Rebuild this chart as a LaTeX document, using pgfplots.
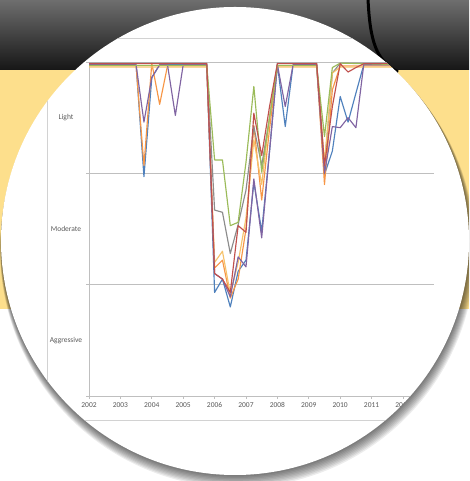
\documentclass[border=0pt]{standalone}
\usepackage{pgfplots}
\pgfplotsset{compat=1.18}
\usepackage{fontspec}
\setmainfont{Carlito}
\definecolor{sblue}{HTML}{4F81BD}
\definecolor{sred}{HTML}{C0504D}
\definecolor{sgreen}{HTML}{9BBB59}
\definecolor{spurple}{HTML}{8064A2}
\definecolor{sorange}{HTML}{F79646}
\definecolor{sgray}{HTML}{8C8C8C}
\definecolor{sgold}{HTML}{F6C26B}
\definecolor{ybg}{HTML}{FDDF8C}
\definecolor{bandtop}{HTML}{6E6E6E}
\definecolor{bandbot}{HTML}{161616}
\definecolor{lblgray}{HTML}{5A5A5A}
\definecolor{gridgray}{HTML}{BFBFBF}
\begin{document}
\begin{tikzpicture}
\begin{scope}[x=1pt,y=1pt]
\useasboundingbox (0,0) rectangle (469,481);
\clip (0,0) rectangle (469,481);
\fill[white] (0,0) rectangle (469,481);
\fill[ybg] (0,172) rectangle (469,412);
\shade[top color=bandtop, bottom color=bandbot] (0,411) rectangle (469,481);
\draw[black, line width=3] (368,482) .. controls (370,440) and (376,420) .. (398,409);
\foreach \i in {1,...,9} {
  \fill[black, opacity=0.075] ({235+0.3*\i}, {240-1.0*\i}) circle ({234+0.4*\i});
}
\fill[white] (235,240) circle (234);
\end{scope}
\begin{scope}
\clip (235pt,240pt) circle (234pt);
\draw[gridgray!70, line width=0.7pt] (47pt,61pt) rectangle (520pt,443pt);
\begin{axis}[
  at={(89pt,85pt)}, anchor=south west,
  scale only axis, width=345.4pt, height=334pt,
  xmin=2002, xmax=2013, ymin=0, ymax=3,
  axis x line=bottom, axis y line=left,
  axis line style={-, draw=gridgray, line width=0.7pt},
  xtick={2002,...,2012},
  /pgf/number format/assume math mode=true,
  xticklabel style={/pgf/number format/1000 sep=, font=\fontsize{7.5}{9}\selectfont, text=lblgray},
  ytick={0,1,2,3}, yticklabels={,,,},
  ymajorgrids, grid style={gridgray, line width=0.7pt},
  tick align=outside, major tick length=3pt,
  tick style={draw=gridgray, line width=0.6pt},
  every axis plot/.append style={line width=1.15pt, line join=round, mark=none},
  clip=false,
]
\node[font=\fontsize{7.5}{9}\selectfont, text=lblgray] at (axis cs:2002,2.5) [xshift=-23pt] {Light};
\node[font=\fontsize{7.5}{9}\selectfont, text=lblgray] at (axis cs:2002,1.5) [xshift=-23pt] {Moderate};
\node[font=\fontsize{7.5}{9}\selectfont, text=lblgray] at (axis cs:2002,0.5) [xshift=-23pt] {Aggressive};
% blue
\addplot[sblue] coordinates {(2002,2.975)(2003.5,2.975)(2003.75,1.97)(2004,2.86)(2004.25,2.975)(2005.75,2.975)(2006,0.93)(2006.25,1.05)(2006.5,0.80)(2006.75,1.12)(2007,1.22)(2007.25,1.92)(2007.5,1.48)(2007.75,2.2)(2008,2.975)(2008.25,2.42)(2008.5,2.975)(2009.25,2.975)(2009.5,1.99)(2009.75,2.2)(2010,2.69)(2010.25,2.46)(2010.5,2.72)(2010.75,2.975)(2012.75,2.975)};
% orange
\addplot[sorange] coordinates {(2002,2.965)(2003.5,2.965)(2003.75,2.07)(2004,2.99)(2004.25,2.62)(2004.5,2.965)(2005.75,2.965)(2006,1.15)(2006.25,1.22)(2006.5,0.88)(2006.75,1.05)(2007,1.5)(2007.25,2.43)(2007.5,1.76)(2007.75,2.4)(2008,2.965)(2009.25,2.965)(2009.5,1.90)(2009.75,2.75)(2010,2.965)(2012.75,2.965)};
% gray
\addplot[sgray] coordinates {(2002,2.99)(2005.75,2.99)(2006,1.67)(2006.25,1.65)(2006.5,1.28)(2006.75,1.54)(2007,1.85)(2007.25,2.42)(2007.5,2.07)(2007.75,2.5)(2008,2.99)(2009.25,2.99)(2009.5,2.06)(2009.75,2.9)(2010,2.99)(2012.75,2.99)};
% gold
\addplot[sgold] coordinates {(2002,2.955)(2005.75,2.955)(2006,1.2)(2006.25,1.3)(2006.5,0.92)(2006.75,1.2)(2007,1.6)(2007.25,2.3)(2007.5,1.9)(2007.75,2.5)(2008,2.955)(2009.25,2.955)(2009.5,2.1)(2009.75,2.9)(2010,2.955)(2012.75,2.955)};
% purple
\addplot[spurple] coordinates {(2002,2.975)(2003.5,2.975)(2003.75,2.46)(2004,2.86)(2004.25,2.975)(2004.5,2.975)(2004.75,2.52)(2005,2.975)(2005.75,2.975)(2006,1.1)(2006.25,1.05)(2006.5,0.89)(2006.75,1.25)(2007,1.16)(2007.25,1.95)(2007.5,1.42)(2007.75,2.2)(2008,2.975)(2008.25,2.6)(2008.5,2.975)(2009.25,2.975)(2009.5,2.0)(2009.75,2.42)(2010,2.41)(2010.25,2.5)(2010.5,2.41)(2010.75,2.975)(2012.75,2.975)};
% green
\addplot[sgreen] coordinates {(2002,2.97)(2005.75,2.97)(2006,2.12)(2006.25,2.12)(2006.5,1.53)(2006.75,1.56)(2007,2.1)(2007.25,2.78)(2007.5,2.01)(2007.75,2.5)(2008,2.97)(2009.25,2.97)(2009.5,2.33)(2009.75,2.95)(2010,2.99)(2012.75,2.97)};
% red
\addplot[sred] coordinates {(2002,2.985)(2005.75,2.985)(2006,1.1)(2006.25,1.05)(2006.5,0.93)(2006.75,1.53)(2007,1.47)(2007.25,2.54)(2007.5,2.16)(2007.75,2.6)(2008,2.985)(2009.25,2.985)(2009.5,2.07)(2009.75,2.6)(2010,2.985)(2010.25,2.91)(2010.5,2.95)(2010.75,2.985)(2012.75,2.985)};
\end{axis}
\end{scope}
\end{tikzpicture}
\end{document}
